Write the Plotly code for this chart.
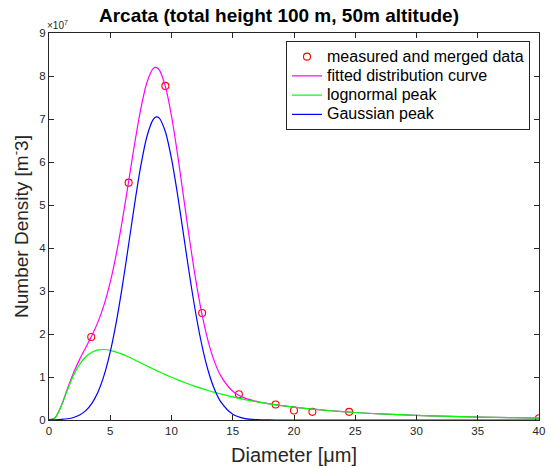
import plotly.graph_objects as go

# measured and merged data (number density in units of 1e7 m^-3)
diam_meas = [3.45, 6.5, 9.5, 12.5, 15.5, 18.5, 20.0, 21.5, 24.5, 40.0]
dens_meas = [1.93, 5.52, 7.77, 2.49, 0.60, 0.36, 0.22, 0.19, 0.19, 0.04]

# curves (units of 1e7 m^-3)
diam_curve = [0, 0.5, 1, 1.5, 2, 2.5, 3, 3.5, 4, 4.5,
              5, 5.5, 6, 6.5, 7, 7.5, 8, 8.5, 8.75, 9,
              9.5, 10, 10.5, 11, 11.5, 12, 12.5, 13, 13.5, 14,
              15, 16, 17, 18, 19, 20, 22, 24, 26, 28, 30, 32, 35, 38, 40]
fitted = [0.002, 0.055, 0.334, 0.721, 1.092, 1.410, 1.688, 1.964, 2.282, 2.683,
          3.206, 3.869, 4.664, 5.547, 6.442, 7.248, 7.856, 8.173, 8.202, 8.142,
          7.758, 7.070, 6.165, 5.154, 4.146, 3.224, 2.443, 1.824, 1.364, 1.038,
          0.669, 0.508, 0.429, 0.376, 0.334, 0.298, 0.239, 0.193, 0.157, 0.129,
          0.106, 0.088, 0.067, 0.052, 0.044]
lognormal = [0.0, 0.049, 0.321, 0.692, 1.033, 1.293, 1.470, 1.577, 1.629, 1.639,
             1.620, 1.580, 1.527, 1.465, 1.397, 1.327, 1.257, 1.188, 1.154, 1.121,
             1.056, 0.994, 0.934, 0.878, 0.826, 0.776, 0.729, 0.685, 0.644, 0.606,
             0.536, 0.475, 0.422, 0.375, 0.334, 0.298, 0.239, 0.193, 0.157, 0.129,
             0.106, 0.088, 0.067, 0.052, 0.044]
gaussian = [0.002, 0.006, 0.013, 0.029, 0.059, 0.117, 0.218, 0.387, 0.653, 1.044,
            1.586, 2.289, 3.137, 4.082, 5.045, 5.921, 6.599, 6.985, 7.048, 7.021,
            6.702, 6.076, 5.231, 4.276, 3.320, 2.448, 1.714, 1.139, 0.720, 0.432,
            0.133, 0.033, 0.007, 0.001, 0, 0, 0, 0, 0, 0,
            0, 0, 0, 0, 0]

x_ticks = [0, 5, 10, 15, 20, 25, 30, 35, 40]
y_ticks = [0, 1, 2, 3, 4, 5, 6, 7, 8, 9]

FONT = "Liberation Sans, Arial, Helvetica, sans-serif"
AX = "#262626"

W, H = 551, 468
ML, MR, MT, MB = 49, 12, 33, 48
PW, PH = W - ML - MR, H - MT - MB

def lg(t):
    return "<span style='font-size:16px'>" + t + "</span>"

fig = go.Figure()
fig.add_trace(go.Scatter(x=diam_meas, y=dens_meas, mode="markers",
                         name=lg("measured and merged data"),
                         marker=dict(symbol="circle-open", size=7, color="#ff0000",
                                     line=dict(width=1.1, color="#ff0000"))))
fig.add_trace(go.Scatter(x=diam_curve, y=fitted, mode="lines",
                         name=lg("fitted distribution curve"),
                         line=dict(color="#ff00ff", width=1.2, shape="spline", smoothing=0.8)))
fig.add_trace(go.Scatter(x=diam_curve, y=lognormal, mode="lines",
                         name=lg("lognormal peak"),
                         line=dict(color="#00ff00", width=1.2, shape="spline", smoothing=0.8)))
fig.add_trace(go.Scatter(x=diam_curve, y=gaussian, mode="lines",
                         name=lg("Gaussian peak"),
                         line=dict(color="#0000ff", width=1.2, shape="spline", smoothing=0.8)))

axis_common = dict(showgrid=False, zeroline=False, showline=True, linecolor=AX,
                   linewidth=1, mirror="allticks", ticks="inside", ticklen=5,
                   tickcolor=AX, tickwidth=1,
                   tickfont=dict(family=FONT, size=11.5, color=AX))

fig.update_layout(
    width=W, height=H,
    margin=dict(l=ML, r=MR, t=MT, b=MB, autoexpand=False),
    paper_bgcolor="white", plot_bgcolor="white",
    font=dict(family=FONT, color=AX),
    title=dict(text="Arcata (total height 100 m, 50m altitude)",
               font=dict(family=FONT, size=19, color="black", weight="bold"),
               x=279 / W, xanchor="center", xref="container",
               y=1 - 15.5 / H, yanchor="middle"),
    xaxis=dict(range=[0, 40], tickvals=x_ticks, **axis_common,
               title=dict(text="Diameter [μm]", font=dict(family=FONT, size=20, color=AX),
                          standoff=12)),
    yaxis=dict(range=[0, 9], tickvals=y_ticks, **axis_common,
               title=dict(text="Number Density [m<sup>-</sup>3]",
                          font=dict(family=FONT, size=19, color=AX), standoff=5)),
    legend=dict(x=(530 - ML) / PW, xanchor="right", y=(420 - 41) / PH, yanchor="top",
                bgcolor="white", bordercolor="#262626", borderwidth=1,
                font=dict(family=FONT, size=12.5, color="black"),
                tracegroupgap=0),
    showlegend=True,
)
fig.add_annotation(text="×10<sup>7</sup>", xref="paper", yref="paper", x=0, y=1,
                   xanchor="left", yanchor="bottom", showarrow=False,
                   font=dict(family=FONT, size=10, color=AX), xshift=-4, yshift=0)

fig.write_html("out.html",
               config={"displayModeBar": False},
               post_script="document.body.style.margin='0px';document.body.style.overflow='hidden';")
